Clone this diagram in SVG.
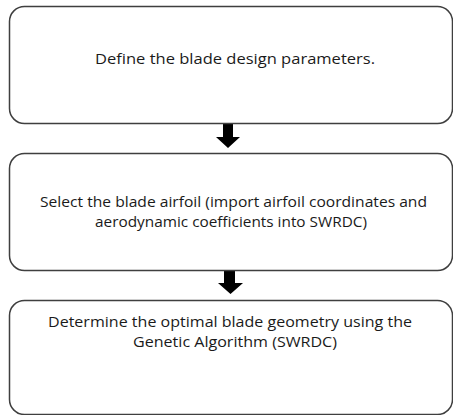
<svg xmlns="http://www.w3.org/2000/svg" width="453" height="415" viewBox="0 0 453 415">
<style>
.box{fill:#fff;stroke:#3f3f3f;stroke-width:1.5}
.t{font-family:"Open Sans","Liberation Sans",sans-serif;font-size:14px;fill:#1a1a1a;text-anchor:middle}
.arr{fill:#000}
</style>
<rect width="453" height="415" fill="#fff"/>
<g id="connectors">
<polygon class="arr" points="223,124 233,124 233,137 240,137 228,148 216,137 223,137"/>
<polygon class="arr" points="224,271 235,271 235,283 243,283 230.5,294 218,283 224,283"/>
</g>
<g id="node1">
<rect class="box" x="9.5" y="6.5" width="443" height="117" rx="15"/>
<text class="t" x="235" y="64" textLength="280" lengthAdjust="spacingAndGlyphs">Define the blade design parameters.</text>
</g>
<g id="node2">
<rect class="box" x="9.5" y="153.5" width="443" height="117" rx="15"/>
<text class="t" x="233.5" y="207" textLength="387" lengthAdjust="spacingAndGlyphs">Select the blade airfoil (import airfoil coordinates and</text>
<text class="t" x="231" y="227" textLength="272" lengthAdjust="spacingAndGlyphs">aerodynamic coefficients into SWRDC)</text>
</g>
<g id="node3">
<rect class="box" x="9.5" y="300.5" width="443" height="114" rx="15"/>
<text class="t" x="230" y="327" textLength="364" lengthAdjust="spacingAndGlyphs">Determine the optimal blade geometry using the</text>
<text class="t" x="235" y="347" textLength="204" lengthAdjust="spacingAndGlyphs">Genetic Algorithm (SWRDC)</text>
</g>
</svg>
